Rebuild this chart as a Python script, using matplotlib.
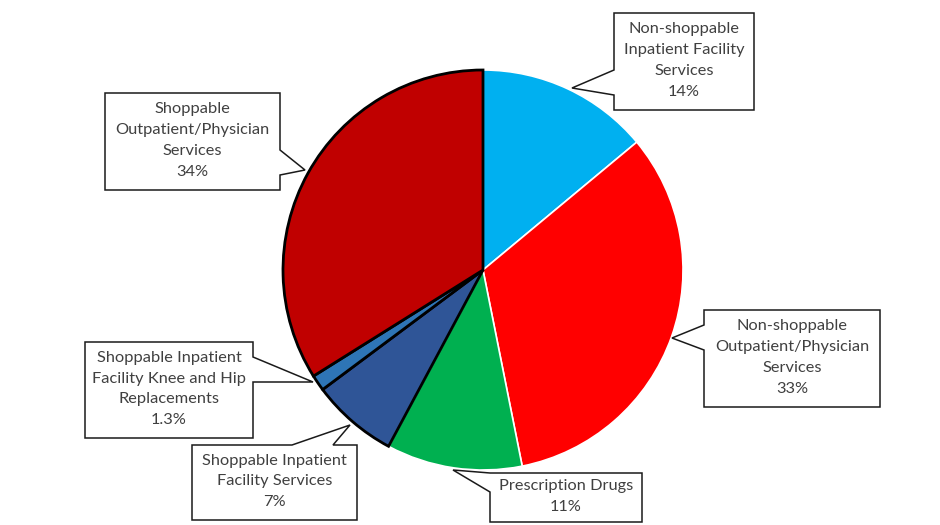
import matplotlib
matplotlib.use("Agg")
import matplotlib.pyplot as plt
from matplotlib.patches import Polygon

labels = [
    "Non-shoppable\nInpatient Facility\nServices",
    "Non-shoppable\nOutpatient/Physician\nServices",
    "Prescription Drugs",
    "Shoppable Inpatient\nFacility Services",
    "Shoppable Inpatient\nFacility Knee and Hip\nReplacements",
    "Shoppable\nOutpatient/Physician\nServices",
]
values = [14, 33, 11, 7, 1.3, 34]
pct_text = ["14%", "33%", "11%", "7%", "1.3%", "34%"]
colors = ["#00B0F0", "#FF0000", "#00B050", "#2F5597", "#2E75B6", "#C00000"]
shoppable = [False, False, False, True, True, True]

W, H = 940, 525
fig = plt.figure(figsize=(9.4, 5.25), dpi=100)
ax = fig.add_axes([0, 0, 1, 1])

wedges, _ = ax.pie(values, colors=colors, startangle=90, counterclock=False,
                   center=(483, H - 270), radius=200)
for w, s in zip(wedges, shoppable):
    if s:
        w.set_edgecolor("black")
        w.set_linewidth(2.0)
    else:
        w.set_edgecolor("white")
        w.set_linewidth(1.2)
ax.set_xlim(0, W)
ax.set_ylim(0, H)
ax.set_aspect("equal")
ax.axis("off")


def callout(box, side, a, b, tip, text):
    x0, y0, x1, y1 = box  # pixel coords, top-left origin
    corners = {"top": [(x0, y0), (x1, y0)], "right": [(x1, y0), (x1, y1)],
               "bottom": [(x1, y1), (x0, y1)], "left": [(x0, y1), (x0, y0)]}
    order = ["top", "right", "bottom", "left"]
    pts = []
    for sd in order:
        p, q = corners[sd]
        pts.append(p)
        if sd == side:
            if sd == "top":
                pa, pb = (min(a, b), y0), (max(a, b), y0)
            elif sd == "right":
                pa, pb = (x1, min(a, b)), (x1, max(a, b))
            elif sd == "bottom":
                pa, pb = (max(a, b), y1), (min(a, b), y1)
            else:
                pa, pb = (x0, max(a, b)), (x0, min(a, b))
            pts += [pa, tip, pb]
    pts = [(px, H - py) for px, py in pts]
    ax.add_patch(Polygon(pts, closed=True, facecolor="white",
                         edgecolor="#1a1a1a", linewidth=1.1, zorder=5))
    ax.text((x0 + x1) / 2, H - (y0 + y1) / 2 + 1, text, ha="center", va="center",
            fontsize=11.8, color="#404040", family=["Lato", "DejaVu Sans"],
            linespacing=1.62, zorder=6)


callout((614, 13, 754, 110), "left", 70, 95, (572, 88), labels[0] + "\n" + pct_text[0])
callout((704, 310, 880, 407), "left", 325, 350, (672, 338), labels[1] + "\n" + pct_text[1])
callout((490, 473, 642, 522), "left", 473, 492, (453, 470), labels[2] + "\n" + pct_text[2])
callout((192, 445, 357, 520), "top", 292, 333, (350, 425), labels[3] + "\n" + pct_text[3])
callout((85, 342, 253, 438), "right", 357, 382, (313, 382), labels[4] + "\n" + pct_text[4])
callout((105, 93, 280, 190), "right", 150, 175, (305, 170), labels[5] + "\n" + pct_text[5])

fig.savefig("out.png", dpi=100)
